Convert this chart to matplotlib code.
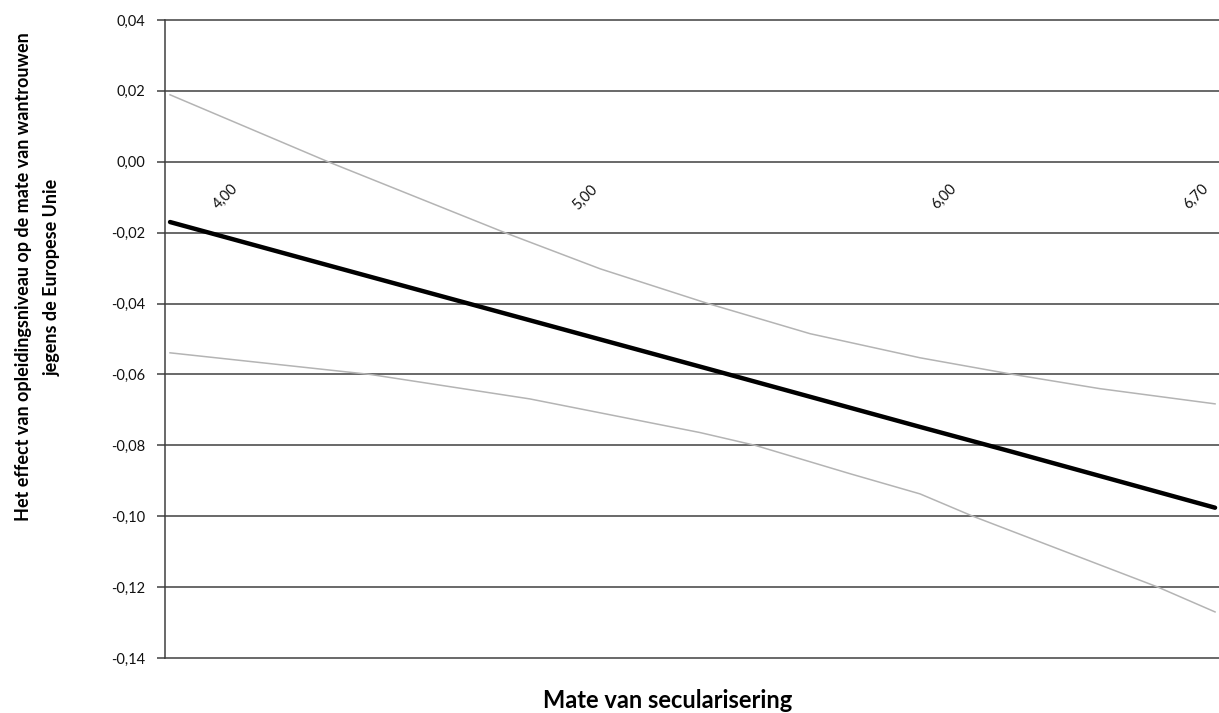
import matplotlib
matplotlib.use('Agg')
import matplotlib.pyplot as plt
from matplotlib.ticker import FixedLocator, FuncFormatter
from matplotlib.transforms import offset_copy


# Data
X_EFFECT = [3.817, 4.257, 4.749, 5.314, 5.904, 6.163, 6.725]
Y_EFFECT = [-0.0170, -0.0292, -0.0428, -0.0584, -0.0748, -0.0819, -0.0976]

X_UPPER = [3.817, 4.257, 4.749, 5.014, 5.314, 5.598, 5.904, 6.163, 6.404, 6.725]
Y_UPPER = [0.0189, 0.0000, -0.0200, -0.0302, -0.0400, -0.0485, -0.0553,
           -0.0600, -0.0640, -0.0683]

X_LOWER = [3.817, 4.374, 4.818, 5.292, 5.445, 5.709, 5.904, 6.051, 6.566, 6.725]
Y_LOWER = [-0.0539, -0.0600, -0.0669, -0.0764, -0.0800, -0.0880, -0.0937,
           -0.1000, -0.1200, -0.1270]

X_TICKS = [4.0, 5.0, 6.0, 6.7]
X_TICK_LABELS = ['4,00', '5,00', '6,00', '6,70']
Y_TICKS = [-0.14, -0.12, -0.10, -0.08, -0.06, -0.04, -0.02, 0.00, 0.02, 0.04]

Y_LABEL = 'Het effect van opleidingsniveau op de mate van wantrouwen\njegens de Europese Unie'
X_LABEL = 'Mate van secularisering'

FONT = ['Lato', 'DejaVu Sans']
plt.rcParams['font.family'] = FONT

W, H = 1219, 713
fig = plt.figure(figsize=(W / 100, H / 100), dpi=100)
ax = fig.add_axes([165 / W, 1 - 658 / H, (1219 - 165) / W, (658 - 20) / H])

ax.set_xlim(3.803, 6.736)
ax.set_ylim(-0.14, 0.04)

for y in Y_TICKS:
    ax.axhline(y, color='#404040', lw=1.1, zorder=1, clip_on=False)

ax.plot(X_UPPER, Y_UPPER, color='#b4b4b4', lw=1.1, zorder=2)
ax.plot(X_LOWER, Y_LOWER, color='#b4b4b4', lw=1.1, zorder=2)
ax.plot(X_EFFECT, Y_EFFECT, color='black', lw=3.2, zorder=3,
        solid_capstyle='round')

for s in ['top', 'right', 'bottom']:
    ax.spines[s].set_visible(False)
ax.spines['left'].set_color('#404040')
ax.spines['left'].set_linewidth(1.1)

ax.yaxis.set_major_locator(FixedLocator(Y_TICKS))
ax.yaxis.set_major_formatter(FuncFormatter(lambda v, p: f'{v:.2f}'.replace('.', ',').replace('-0,00', '0,00')))
ax.tick_params(axis='y', direction='out', length=6, width=1.1, color='#404040',
               labelsize=10.5, pad=8.5, labelcolor='#111111')
ax.set_xticks([])

# category labels sit just under the zero line, rotated
for xv, lab in zip(X_TICKS, X_TICK_LABELS):
    tr = offset_copy(ax.transData, fig=fig, x=0, y=-25, units='dots')
    ax.text(xv, 0.0, lab, transform=tr, rotation=45, rotation_mode='anchor',
            ha='right', va='center', fontsize=10.5, color='#111111')

fig.text(38 / W, 1 - 277 / H, Y_LABEL, rotation=90, ha='center', va='center',
         fontsize=13, fontweight='bold', linespacing=1.85)
fig.text(668 / W, 1 - 700 / H, X_LABEL, ha='center', va='center',
         fontsize=17, fontweight='bold')

fig.savefig('out.png', dpi=100)
